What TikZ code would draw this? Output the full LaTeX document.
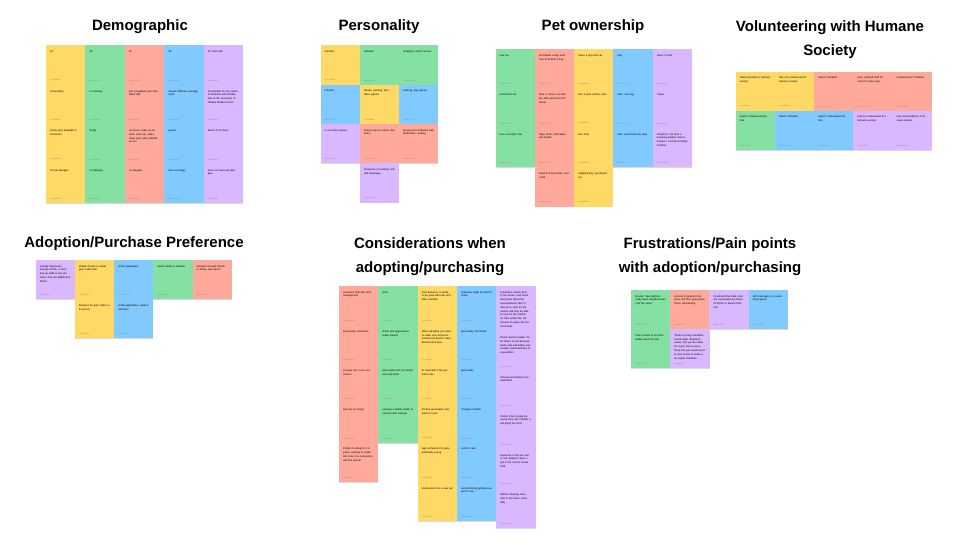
\documentclass[tikz,border=0pt]{standalone}
\usepackage{fontspec}
\setmainfont{Liberation Sans}
\setsansfont{Liberation Sans}
\usetikzlibrary{positioning, shadows}

\definecolor{noteyel}{HTML}{FFD966}
\definecolor{notegrn}{HTML}{85E0A3}
\definecolor{notered}{HTML}{FFA99B}
\definecolor{noteblu}{HTML}{80CAFF}
\definecolor{notepur}{HTML}{D9B8FF}

% authors shown at the foot of each sticky note
\def\whoyel{Lucy Walker}
\def\whogrn{Bernard Tran}
\def\whored{Hannah Tran}
\def\whoblu{Samuel Tran}
\def\whopur{Andrea Rios}

\begin{document}
\begin{tikzpicture}[x=1pt, y=-1pt,
    title/.style={font=\fontsize{15}{24}\selectfont\bfseries, align=center, inner sep=0pt},
    sticky/.style={minimum width=39.3pt, minimum height=39.3pt, inner sep=0pt, outer sep=0pt,
        anchor=north west, drop shadow={shadow xshift=0pt, shadow yshift=-0.7pt, opacity=0.15, fill=black}},
    jot/.style={anchor=north west, text width=31pt, inner sep=0pt, align=left,
        font=\fontsize{2.6}{3.8}\selectfont},
    who/.style={anchor=south west, inner sep=0pt, font=\fontsize{1.9}{2.2}\selectfont, text=black!45},
]
    \useasboundingbox[fill=white] (0,0) rectangle (954,553);

    % Titles
    \node[title] (t-dem) at (140,27) {Demographic};
    \node[title] (t-per) at (379,27) {Personality};
    \node[title] (t-pet) at (593,27) {Pet ownership};
    \node[title, anchor=north] (t-vol) at (830,20) {Volunteering with Humane\\Society};
    \node[title] (t-adp) at (134,244) {Adoption/Purchase Preference};
    \node[title, anchor=north] (t-con) at (430,237) {Considerations when\\adopting/purchasing};
    \node[title, anchor=north] (t-fru) at (710,237) {Frustrations/Pain points\\with adoption/purchasing};

    % Demographic
    \foreach \x/\y/\c/\t in {
        0/0/yel/19, 1/0/grn/25, 2/0/red/21, 3/0/blu/18, 4/0/pur/30 Years old,
        0/1/yel/not working, 1/1/grn/no working, 2/1/red/{just completed, part time retail staff},
        3/1/blu/casual childcare management,
        4/1/pur/Coordinator for the centre of Students with Disabilities at the University of Ottawa Student Union,
        0/2/yel/{Study, play baseball instruments}, 1/2/grn/Study,
        2/2/red/{not much, wake up do work, work out, clean, clean work, play football soccer},
        3/2/blu/games, 4/2/pur/Works from home,
        0/3/yel/No pet allergies, 1/3/grn/no allergies, 2/3/red/no allergies,
        3/3/blu/have sociology, 4/3/pur/Does not have pet allergies}
    {
        \node[sticky, fill=note\c] (dem-\x-\y) at (46+39.4*\x, 45.5+39.5*\y) {};
        \node[jot] at ([xshift=4pt, yshift=-5pt]dem-\x-\y.north west) {\t};
        \node[who] at ([xshift=4pt, yshift=3.5pt]dem-\x-\y.south west) {\csname who\c\endcsname};
    }

    % Personality
    \foreach \x/\y/\c/\t in {
        0/0/yel/Introvert, 1/0/grn/ambivert, 2/0/grn/{shopping, watch movies},
        0/1/blu/Introvert, 1/1/yel/{Reads, painting, arts, video games}, 2/1/blu/{working, play games},
        0/2/pur/Is an indoor person, 1/2/red/Indoors person rather stay home,
        2/2/red/{playing soccer/basket ball, badminton, reading},
        1/3/pur/{Introverts (or Gaming, arts and language)}}
    {
        \node[sticky, fill=note\c] (per-\x-\y) at (320.5+39.3*\x, 45.5+39.3*\y) {};
        \node[jot] at ([xshift=4pt, yshift=-5pt]per-\x-\y.north west) {\t};
        \node[who] at ([xshift=4pt, yshift=3.5pt]per-\x-\y.south west) {\csname who\c\endcsname};
    }

    % Pet ownership
    \foreach \x/\y/\c/\t in {
        0/0/grn/Has cat, 1/0/red/{purchased a dog, took care of brother's dog}, 2/0/yel/Owns a dog and cat,
        3/0/blu/dog, 4/0/pur/Owns 2 Cats,
        0/1/grn/purchased cat, 1/1/red/{have 2, future 3-4 cats, live with parents in the house},
        2/1/yel/{Has 2 pets, prefers cats}, 3/1/blu/{pets: one dog}, 4/1/pur/I have/wanted tortoise,
        0/2/grn/has a cat right now, 1/2/red/{dogs, birds, chameleon and lizards}, 2/2/yel/Has Cats,
        3/2/blu/{pets: purchased one dog},
        4/2/pur/Adopted 1 cat from a traveling adopter and rehomed 1 cat from a family member,
        1/3/red/{Used to have turtles, and a fish}, 2/3/yel/{Adopted dog, purchased cat}}
    {
        \node[sticky, fill=note\c] (pet-\x-\y) at (495.5+39.3*\x, 49.3+39.35*\y) {};
        \node[jot] at ([xshift=4pt, yshift=-5pt]pet-\x-\y.north west) {\t};
        \node[who] at ([xshift=4pt, yshift=3.5pt]pet-\x-\y.south west) {\csname who\c\endcsname};
    }

    % Volunteering with Humane Society
    \foreach \x/\y/\c/\t in {
        0/0/yel/Never donated to humane society, 1/0/yel/Has not volunteered for humane society,
        2/0/red/haven't donated, 3/0/red/{once, painted stuff for church 3 years ago},
        4/0/red/volunteered in Thailand,
        0/1/grn/haven't volunteered before, 1/1/blu/haven't donated, 2/1/blu/haven't volunteered before,
        3/1/pur/Has not volunteered at a humane society, 4/1/pur/Has not donated to a humane society}
    {
        \node[sticky, fill=note\c] (vol-\x-\y) at (735.7+39.2*\x, 71.7+39.2*\y) {};
        \node[jot] at ([xshift=4pt, yshift=-5pt]vol-\x-\y.north west) {\t};
        \node[who] at ([xshift=4pt, yshift=3.5pt]vol-\x-\y.south west) {\csname who\c\endcsname};
    }

    % Adoption/Purchase Preference
    \foreach \x/\y/\c/\t in {
        0/0/pur/{Usually adopt pets through SPCA, or their pop-up stalls in the pet stores that are affiliated to SPCA},
        1/0/yel/Would choose to adopt pets online first, 2/0/blu/online application,
        3/0/grn/social media or website, 4/0/red/{adoption through friends or family, was easier},
        1/1/yel/Browses for pets online or in person, 2/1/blu/{online application, walk-in visit later}}
    {
        \node[sticky, fill=note\c] (adp-\x-\y) at (35.7+39.2*\x, 260+39.2*\y) {};
        \node[jot] at ([xshift=4pt, yshift=-5pt]adp-\x-\y.north west) {\t};
        \node[who] at ([xshift=4pt, yshift=3.5pt]adp-\x-\y.south west) {\csname who\c\endcsname};
    }

    % Considerations when adopting/purchasing
    \foreach \x/\y/\c/\t in {
        0/0/red/{considers financial, time management}, 0/1/red/{personality, size/looks},
        0/2/red/{younger pet, more connection}, 0/3/red/has lots of energy,
        0/4/red/{Prefers to adopt in 3-4 years, wanting to establish more of a connection with the animal},
        1/0/grn/price, 1/1/grn/breed and appearance really matters,
        1/2/grn/{personality first, but breed also important},
        1/3/grn/{younger is better, better to connect with feelings},
        2/0/yel/{Pets behavior, it needs to be good with kids and other animals},
        2/1/yel/When adopting you need to make sure animal is trained and doesn't have behavioral issues,
        2/2/yel/its important if the pet looks cute, 2/3/yel/Prefers personality over looks for pets,
        2/4/yel/{Age preference for pets, preferably young}, 2/5/yel/Vaccinations for a new pet,
        3/0/blu/character might be hard to check, 3/1/blu/{personality, the breed},
        3/2/blu/personality, 3/3/blu/Younger is better, 3/4/blu/cost for care,
        3/5/blu/not prioritizing getting new pet for now}
    {
        \node[sticky, fill=note\c] (con-\x-\y) at (339+39.3*\x, 286+39.2*\y) {};
        \node[jot] at ([xshift=4pt, yshift=-5pt]con-\x-\y.north west) {\t};
        \node[who] at ([xshift=4pt, yshift=3.5pt]con-\x-\y.south west) {\csname who\c\endcsname};
    }
    % taller notes in the last column
    \foreach \k/\top/\h/\t in {
        1/286/45.5/{Considers current pets in the house, how much they know about the species/breed, their finances in case for the animal, will they be able to care for the animal for their whole life, the amount of space the animal needs},
        2/331.5/39.5/{Breed doesn't matter, it's far better to mix because black cats and kittens are usually overlooked due to superstition},
        3/371/39/Choose personality over aesthetics,
        4/410/39/Prefers them young because they can't handle a pet dying too soon,
        5/449/39.5/{Depends on the pet, but is only willing to have 1 pet in the current household},
        6/488.5/39.5/{Will be adopting more cats in the future, probably}}
    {
        \node[sticky, fill=notepur, minimum height=\h pt] (con-4-\k) at (496.2, \top) {};
        \node[jot] at ([xshift=4pt, yshift=-5pt]con-4-\k.north west) {\t};
        \node[who] at ([xshift=4pt, yshift=3.5pt]con-4-\k.south west) {\whopur};
    }

    % Frustrations/Pain points with adoption/purchasing
    \foreach \x/\y/\c/\t in {
        0/0/grn/the pet I like might already been adopted when I got the news,
        1/0/red/{process of going to the store and then going back home, demanding},
        2/0/pur/Frustrated that older cats are overlooked by others at SPCA or animal shelters,
        3/0/blu/will it damage my current living space,
        0/1/grn/There needs to be more details about the pet,
        1/1/pur/{Thinks moving checklists would make adoptions easier, lets you be ready for a pet, here's everything that you would need in your house to make it an easier transition}}
    {
        \node[sticky, fill=note\c] (fru-\x-\y) at (631+39.2*\x, 290+39.2*\y) {};
        \node[jot] at ([xshift=4pt, yshift=-5pt]fru-\x-\y.north west) {\t};
        \node[who] at ([xshift=4pt, yshift=3.5pt]fru-\x-\y.south west) {\csname who\c\endcsname};
    }
\end{tikzpicture}
\end{document}
